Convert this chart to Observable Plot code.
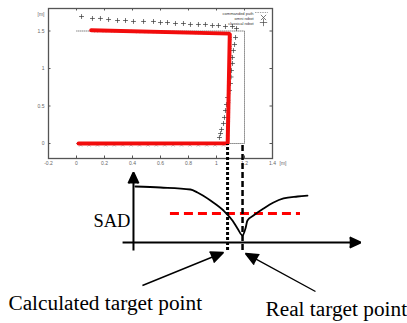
<!DOCTYPE html>
<html><head><meta charset="utf-8">
<script src="https://cdn.jsdelivr.net/npm/d3@7"></script>
<script src="https://cdn.jsdelivr.net/npm/@observablehq/plot@0.6"></script>
<style>
body{margin:0;background:#fff;}
#chart{width:407px;height:323px;position:relative;overflow:hidden;background:#fff}
#chart svg{display:block;overflow:visible}
</style></head><body><div id="chart"></div>
<script>
// ===== Upper plot: robot trajectories [m] =====
const xTicks = [-0.2, 0, 0.2, 0.4, 0.6, 0.8, 1, 1.2, 1.4];
const yTicks = [0, 0.5, 1, 1.5];
const unitLabel = "[m]";
const legendLabels = ["commanded path", "omni robot", "classical robot"];

const commandedX = [0, 1.2, 1.2, 0];
const commandedY = [0, 0, 1.5, 1.5];

const omniX = [0.03,0.09,0.15,0.21,0.27,0.33,0.39,0.45,0.51,0.57,0.63,0.69,0.75,0.81,0.87,0.93,0.99,1.05,
               1.08,1.08,1.085,1.085,1.09,1.09,1.09,1.095,1.095,1.1,1.1,1.1,
               1.04,0.98,0.92,0.86,0.80,0.74,0.68,0.62,0.56,0.50,0.44,0.38,0.32,0.26,0.20,0.14];
const omniY = [-0.02,-0.02,-0.02,-0.02,-0.02,-0.02,-0.02,-0.02,-0.02,-0.02,-0.02,-0.02,-0.02,-0.02,-0.02,-0.02,-0.02,-0.02,
               0.08,0.2,0.32,0.44,0.56,0.68,0.8,0.92,1.04,1.16,1.28,1.4,
               1.47,1.47,1.475,1.475,1.48,1.48,1.485,1.485,1.49,1.49,1.49,1.495,1.495,1.5,1.5,1.5];

const classicalX = [0.036,0.114,0.171,0.229,0.293,0.35,0.407,0.479,0.55,0.6,0.65,0.707,0.764,0.814,0.871,0.921,0.971,1.014,1.064,1.114,1.143,
                    1.136,1.129,1.121,1.114,1.114,1.107,1.104,1.1,1.093,1.079,1.071,1.064,1.057,1.05,1.036,1.029,1.021];
const classicalY = [1.693,1.667,1.667,1.653,1.64,1.64,1.627,1.627,1.627,1.613,1.613,1.6,1.6,1.587,1.587,1.587,1.573,1.573,1.56,1.56,1.533,
                    1.413,1.32,1.24,1.147,1.067,0.973,0.887,0.8,0.707,0.613,0.52,0.44,0.347,0.267,0.187,0.133,0.08];

const highlightX = [0.015, 1.08, 1.095, 0.105];
const highlightY = [0, 0.005, 1.465, 1.51];

// ===== Lower schematic: SAD vs position =====
const sadX = [0.421,0.6,0.814,0.864,0.957,1.05,1.114,1.15,1.186,1.207,1.221,1.264,1.336,1.407,1.479,1.579,1.65];
const sadY = [0.80,0.786,0.757,0.714,0.60,0.457,0.314,0.20,0.10,0.20,0.314,0.386,0.486,0.571,0.629,0.657,0.671];
const thresholdX = [0.671, 1.6];
const thresholdSAD = [0.414];
const sadLabel = "SAD";
const targetNames = ["Calculated target point", "Real target point"];
const targetX = [1.079, 1.186];
const targetSpan = [-0.114, 1.4];
const labelX = [-0.486, 1.35];
const labelY = [-0.861, -0.947];
const arrowFromX = [0.471, 1.707];
const arrowFromY = [-0.614, -0.70];
const arrowToX = [1.05, 1.207];
const arrowToY = [-0.143, -0.157];
const axisOrigin = [0.407, 0];
const axisEndX = [0.329, 2.029];
const axisEndY = [-0.114, 1.0];

// ---- build tables
const commanded = commandedX.map((x, i) => ({x, y: commandedY[i]}));
const omni = omniX.map((x, i) => ({x, y: omniY[i]}));
const classical = classicalX.map((x, i) => ({x, y: classicalY[i]}));
const highlight = highlightX.map((x, i) => ({x, y: highlightY[i]}));
const sad = sadX.map((x, i) => ({x, y: sadY[i]}));
const targets = targetNames.map((name, i) => ({name, x: targetX[i]}));
const notes = targetNames.map((name, i) => ({name, x: labelX[i], y: labelY[i],
  x1: arrowFromX[i], y1: arrowFromY[i], x2: arrowToX[i], y2: arrowToY[i]}));

const xDom = [xTicks[0], xTicks[xTicks.length - 1]];
const xRange = [48, 272];
const ink = "#555";

const legendSymbols = [
  {draw(ctx) { ctx.moveTo(-6.5, 0); ctx.lineTo(6.5, 0); }},
  "times",
  "plus"
];

const legendMarks = legendLabels.flatMap((label, i) => [
  Plot.text([label], {frameAnchor: "top-right", dx: -19, dy: 4 + 5 * i, textAnchor: "end", fontSize: 4, fill: "#333"}),
  Plot.dot([label], {frameAnchor: "top-right", dx: i === 0 ? -11 : -9, dy: 4 + 5 * i,
    symbol: legendSymbols[i], r: 2.5, fill: "none", stroke: "#444", strokeWidth: 0.7,
    strokeDasharray: i === 0 ? "0.7,1" : null})
]);

const upperPlot = Plot.plot({
  width: 407, height: 168,
  marginLeft: 48, marginRight: 135, marginTop: 8, marginBottom: 10,
  x: {domain: xDom, range: xRange},
  y: {domain: [-0.2, 1.8], range: [158, 8]},
  style: {overflow: "visible", fontFamily: "'Liberation Sans', Arial, sans-serif", background: "transparent"},
  marks: [
    Plot.axisX({anchor: "bottom", ticks: xTicks, tickSize: 0, tickPadding: 3, fontSize: 5, fill: "#666", label: null, tickFormat: d => String(d)}),
    Plot.axisY({anchor: "left", ticks: yTicks, tickSize: 0, tickPadding: 4, fontSize: 5, fill: "#666", label: null, tickFormat: d => String(d)}),
    Plot.text([unitLabel], {frameAnchor: "bottom-right", dx: 14, dy: 6, fontSize: 5, fill: "#666"}),
    Plot.text([unitLabel], {frameAnchor: "top-left", dx: -4, dy: 4, textAnchor: "end", fontSize: 5, fill: "#666"}),
    Plot.tickX(xTicks, {x: d => d, insetTop: 147.5, stroke: ink}),
    Plot.tickX(xTicks, {x: d => d, insetBottom: 147.5, stroke: ink}),
    Plot.tickY(yTicks, {y: d => d, insetRight: 221.5, stroke: ink}),
    Plot.tickY(yTicks, {y: d => d, insetLeft: 221.5, stroke: ink}),
    Plot.line(commanded, {x: "x", y: "y", stroke: "#666", strokeWidth: 0.8, strokeDasharray: "0.8,1.2"}),
    Plot.dot(omni, {x: "x", y: "y", symbol: "times", r: 1.6, stroke: "#999", strokeWidth: 0.7}),
    Plot.dot(classical, {x: "x", y: "y", symbol: "plus", r: 1.7, stroke: "#333", strokeWidth: 0.7}),
    Plot.line(highlight, {x: "x", y: "y", stroke: "#f20c0c", strokeWidth: 4, strokeLinejoin: "miter"}),
    ...legendMarks,
    Plot.frame({stroke: ink, strokeWidth: 1.3})
  ]
});

const lowerPlot = Plot.plot({
  width: 407, height: 155, margin: 0,
  x: {domain: xDom, range: xRange, axis: null},
  y: {domain: [0, 1], range: [74, 4], axis: null},
  style: {overflow: "visible", fontFamily: "'Liberation Serif', 'Times New Roman', serif", background: "transparent", color: "#000"},
  marks: [
    Plot.ruleY(thresholdSAD, {x1: thresholdX[0], x2: thresholdX[1], stroke: "#f00", strokeWidth: 3, strokeDasharray: "9,5"}),
    Plot.line(sad, {x: "x", y: "y", curve: "monotone-x", stroke: "#000", strokeWidth: 1.8}),
    Plot.arrow([0], {x1: axisOrigin[0], x2: axisOrigin[0], y1: axisEndY[0], y2: axisEndY[1], stroke: "#000", fill: "#000", strokeWidth: 2, headLength: 9, headAngle: 50, strokeLinejoin: "miter", strokeLinecap: "butt"}),
    Plot.arrow([0], {x1: axisEndX[0], x2: axisEndX[1], y1: axisOrigin[1], y2: axisOrigin[1], stroke: "#000", fill: "#000", strokeWidth: 2, headLength: 9, headAngle: 50, strokeLinejoin: "miter", strokeLinecap: "butt"}),
    Plot.ruleX(targets.slice(0, 1), {x: "x", y1: targetSpan[0], y2: targetSpan[1], stroke: "#000", strokeWidth: 3, strokeDasharray: "3,2"}),
    Plot.ruleX(targets.slice(1), {x: "x", y1: targetSpan[0], y2: targetSpan[1], stroke: "#000", strokeWidth: 2.5, strokeDasharray: "6,3"}),
    Plot.text([sadLabel], {x: () => axisOrigin[0], y: () => 0.3, dx: -3, textAnchor: "end", fontSize: 18.5, fill: "#000"}),
    Plot.arrow(notes, {x1: "x1", y1: "y1", x2: "x2", y2: "y2", stroke: "#000", fill: "#000", strokeWidth: 1.4, headLength: 15, headAngle: 48, strokeLinejoin: "miter", strokeLinecap: "butt"}),
    Plot.text(notes, {x: "x", y: "y", text: "name", textAnchor: "start", fontSize: 21.3, fill: "#000"})
  ]
});

document.getElementById("chart").append(upperPlot, lowerPlot);
</script>
</body></html>
